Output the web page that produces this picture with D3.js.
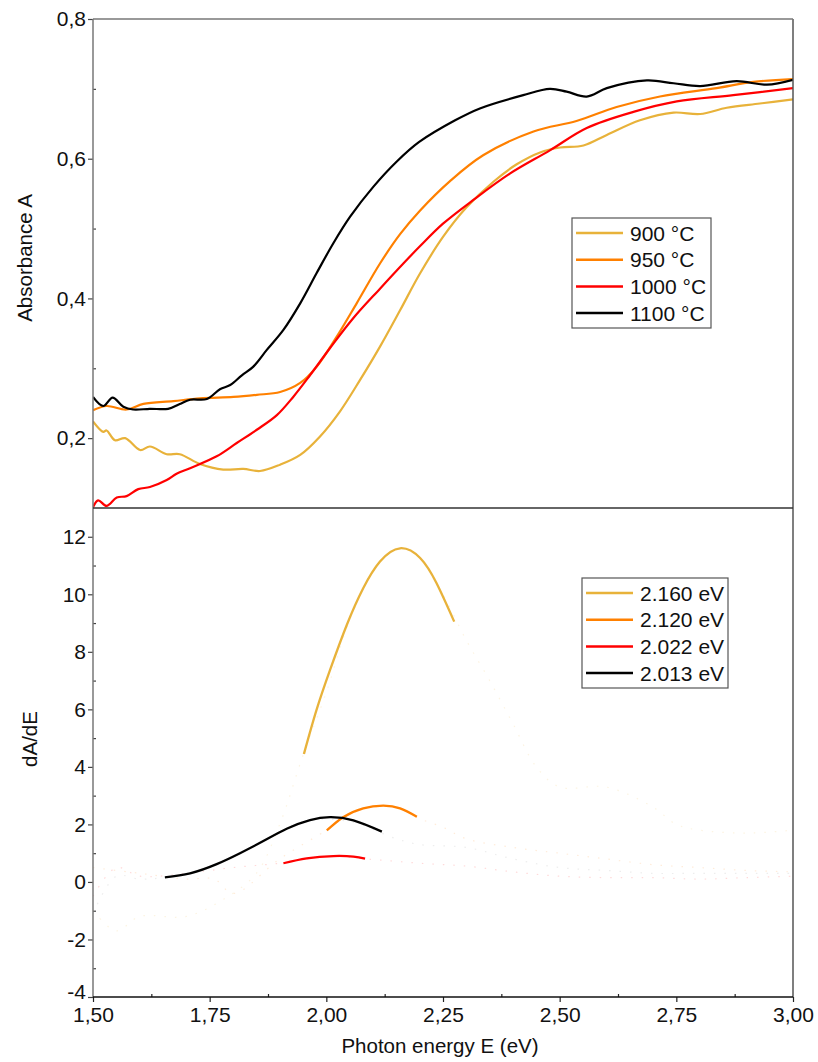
<!DOCTYPE html>
<html>
<head>
<meta charset="utf-8">
<script src="https://cdn.jsdelivr.net/npm/d3@7"></script>
<style>
  body { margin: 0; background: #fff; }
  text { font-family: "Liberation Sans", Arial, sans-serif; fill: #111; }
</style>
</head>
<body>
<svg id="chart" width="818" height="1062"></svg>
<script>
// ---- absorbance spectra (top panel) ----
var e900 = [1.500, 1.522, 1.529, 1.547, 1.569, 1.601, 1.622, 1.658, 1.686, 1.729, 1.779, 1.822, 1.858, 1.901, 1.944, 1.986, 2.029, 2.072, 2.115, 2.158, 2.201, 2.250, 2.300, 2.358, 2.408, 2.458, 2.501, 2.551, 2.601, 2.672, 2.744, 2.801, 2.858, 2.929, 3.000];
var a900 = [0.224, 0.209, 0.211, 0.197, 0.200, 0.183, 0.188, 0.177, 0.177, 0.163, 0.155, 0.156, 0.153, 0.162, 0.176, 0.202, 0.238, 0.283, 0.331, 0.383, 0.436, 0.488, 0.530, 0.567, 0.592, 0.609, 0.616, 0.619, 0.634, 0.655, 0.666, 0.664, 0.673, 0.679, 0.685];
var e950 = [1.500, 1.529, 1.572, 1.608, 1.672, 1.729, 1.801, 1.851, 1.901, 1.944, 1.979, 2.022, 2.065, 2.115, 2.158, 2.201, 2.265, 2.336, 2.444, 2.536, 2.622, 2.715, 2.836, 2.915, 3.000];
var a950 = [0.240, 0.246, 0.241, 0.249, 0.253, 0.257, 0.259, 0.262, 0.266, 0.279, 0.302, 0.345, 0.393, 0.450, 0.492, 0.526, 0.568, 0.605, 0.639, 0.654, 0.674, 0.689, 0.701, 0.710, 0.714];
var e1000 = [1.500, 1.511, 1.529, 1.551, 1.572, 1.597, 1.622, 1.658, 1.679, 1.708, 1.765, 1.808, 1.851, 1.894, 1.929, 1.965, 2.008, 2.058, 2.115, 2.165, 2.201, 2.250, 2.315, 2.394, 2.479, 2.558, 2.658, 2.751, 2.872, 3.000];
var a1000 = [0.101, 0.111, 0.103, 0.115, 0.117, 0.127, 0.130, 0.140, 0.149, 0.157, 0.174, 0.193, 0.212, 0.233, 0.259, 0.290, 0.329, 0.372, 0.414, 0.450, 0.475, 0.507, 0.541, 0.579, 0.612, 0.644, 0.667, 0.682, 0.691, 0.701];
var e1100 = [1.500, 1.522, 1.542, 1.565, 1.586, 1.622, 1.661, 1.686, 1.708, 1.744, 1.772, 1.794, 1.819, 1.843, 1.872, 1.908, 1.944, 1.979, 2.015, 2.051, 2.101, 2.151, 2.199, 2.276, 2.329, 2.422, 2.479, 2.515, 2.558, 2.601, 2.687, 2.744, 2.801, 2.879, 2.944, 3.000];
var a1100 = [0.259, 0.246, 0.258, 0.245, 0.241, 0.242, 0.242, 0.249, 0.255, 0.256, 0.270, 0.276, 0.290, 0.302, 0.326, 0.355, 0.393, 0.436, 0.479, 0.517, 0.560, 0.596, 0.624, 0.655, 0.672, 0.691, 0.700, 0.696, 0.689, 0.701, 0.712, 0.708, 0.704, 0.711, 0.706, 0.713];

// ---- derivative (bottom panel), faint raw data ----
var de900 = [1.50, 1.55, 1.60, 1.70, 1.78, 1.85, 1.90, 1.95, 2.00, 2.05, 2.10, 2.15, 2.20, 2.25, 2.30, 2.35, 2.40, 2.45, 2.50, 2.60, 2.70, 2.75, 2.80, 2.90, 3.00];
var d900 = [-1.0, -1.7, -1.2, -1.2, -0.6, 0.3, 2.0, 4.4, 6.6, 9.1, 10.8, 11.6, 11.3, 10.0, 8.4, 7.0, 5.5, 4.0, 3.3, 3.3, 2.6, 2.0, 1.8, 1.7, 1.8];
var de950 = [1.50, 1.60, 1.70, 1.76, 1.80, 1.90, 2.00, 2.05, 2.10, 2.15, 2.20, 2.25, 2.30, 2.40, 2.50, 2.60, 2.70, 2.80, 2.90, 3.00];
var d950 = [0.5, 0.3, 0.1, 0.1, -0.4, 0.8, 1.8, 2.35, 2.6, 2.6, 2.2, 1.9, 1.5, 1.2, 1.0, 0.8, 0.6, 0.5, 0.4, 0.35];
var de1000 = [1.50, 1.55, 1.60, 1.70, 1.80, 1.90, 2.00, 2.10, 2.20, 2.30, 2.40, 2.50, 2.60, 2.70, 2.80, 2.90, 3.00];
var d1000 = [-0.5, 0.5, 0.2, 0.3, 0.5, 0.65, 0.88, 0.78, 0.65, 0.55, 0.35, 0.2, 0.15, 0.15, 0.1, 0.15, 0.2];
var de1100 = [1.50, 1.55, 1.60, 1.65, 1.75, 1.85, 1.95, 2.05, 2.15, 2.20, 2.30, 2.40, 2.50, 2.60, 2.70, 2.80, 2.90, 3.00];
var d1100 = [-1.1, 0.2, 0.1, 0.15, 0.5, 1.3, 2.1, 2.1, 1.5, 1.3, 1.2, 0.8, 0.5, 0.4, 0.3, 0.3, 0.3, 0.3];

// ---- gaussian fits of the derivative peaks ----
var fe2160 = [1.952, 1.979, 2.008, 2.044, 2.079, 2.115, 2.158, 2.201, 2.236, 2.274];
var fv2160 = [4.45, 5.98, 7.37, 8.94, 10.21, 11.14, 11.6, 11.26, 10.39, 9.05];
var fe2120 = [2.001, 2.036, 2.079, 2.122, 2.158, 2.194];
var fv2120 = [1.79, 2.25, 2.56, 2.65, 2.56, 2.27];
var fe2022 = [1.908, 1.958, 2.015, 2.058, 2.083];
var fv2022 = [0.65, 0.82, 0.90, 0.88, 0.81];
var fe2013 = [1.654, 1.708, 1.765, 1.815, 1.865, 1.915, 1.965, 2.008, 2.058, 2.119];
var fv2013 = [0.16, 0.30, 0.62, 1.00, 1.42, 1.85, 2.15, 2.25, 2.14, 1.75];

var tempLabels = ["900 °C", "950 °C", "1000 °C", "1100 °C"];
var peakLabels = ["2.160 eV", "2.120 eV", "2.022 eV", "2.013 eV"];
var colors = ["#E8B23A", "#FF8000", "#FF0000", "#000000"];

var xTicks = [1.5, 1.75, 2.0, 2.25, 2.5, 2.75, 3.0];
var xTickLabels = ["1,50", "1,75", "2,00", "2,25", "2,50", "2,75", "3,00"];
var xMinor = [1.625, 1.875, 2.125, 2.375, 2.625, 2.875];
var yTopTicks = [0.2, 0.4, 0.6, 0.8];
var yTopLabels = ["0,2", "0,4", "0,6", "0,8"];
var yTopMinor = [0.3, 0.5, 0.7];
var yBotTicks = [-4, -2, 0, 2, 4, 6, 8, 10, 12];
var yBotLabels = ["-4", "-2", "0", "2", "4", "6", "8", "10", "12"];
var yBotMinor = [-3, -1, 1, 3, 5, 7, 9, 11];

var svg = d3.select("#chart");
var left = 93, right = 793, topY = 19, midY = 508, botY = 997;

var x = d3.scaleLinear().domain([1.5, 3.0]).range([left, right]);
var yTop = d3.scaleLinear().domain([0.1, 0.8]).range([midY, topY]);
var yBot = d3.scaleLinear().domain([-4, 13]).range([botY, midY]);

var defs = svg.append("defs");
defs.append("clipPath").attr("id", "clipTop").append("rect")
  .attr("x", left).attr("y", topY).attr("width", right - left).attr("height", midY - topY);
defs.append("clipPath").attr("id", "clipBot").append("rect")
  .attr("x", left).attr("y", midY).attr("width", right - left).attr("height", botY - midY);

function pairs(es, vs) {
  return es.map(function (e, i) { return [e, vs[i]]; });
}

// top panel curves
var topSeries = [pairs(e900, a900), pairs(e950, a950), pairs(e1000, a1000), pairs(e1100, a1100)];
var lineTop = d3.line()
  .x(function (d) { return x(d[0]); })
  .y(function (d) { return yTop(d[1]); })
  .curve(d3.curveCatmullRom.alpha(0.5));
var gTop = svg.append("g").attr("clip-path", "url(#clipTop)");
topSeries.forEach(function (s, i) {
  gTop.append("path").datum(s)
    .attr("d", lineTop)
    .attr("fill", "none")
    .attr("stroke", colors[i])
    .attr("stroke-width", 2.2);
});

// bottom panel
var lineRaw = d3.line()
  .x(function (d) { return x(d[0]); })
  .y(function (d) { return yBot(d[1]); })
  .curve(d3.curveCatmullRom.alpha(0.5));
var lineFit = d3.line()
  .x(function (d) { return x(d[0]); })
  .y(function (d) { return yBot(d[1]); })
  .curve(d3.curveNatural);
var gBot = svg.append("g").attr("clip-path", "url(#clipBot)");
var rawSeries = [pairs(de900, d900), pairs(de950, d950), pairs(de1000, d1000), pairs(de1100, d1100)];
rawSeries.forEach(function (s, i) {
  gBot.append("path").datum(s)
    .attr("d", lineRaw)
    .attr("fill", "none")
    .attr("stroke", i === 3 ? "#888" : colors[i])
    .attr("stroke-opacity", 0.15)
    .attr("stroke-width", 1.2)
    .attr("stroke-dasharray", "1.5,9");
});
var fitSeries = [pairs(fe2160, fv2160), pairs(fe2120, fv2120), pairs(fe2022, fv2022), pairs(fe2013, fv2013)];
fitSeries.forEach(function (s, i) {
  gBot.append("path").datum(s)
    .attr("d", lineFit)
    .attr("fill", "none")
    .attr("stroke", colors[i])
    .attr("stroke-width", 2.3);
});

// axes
function styleAxis(g, col) {
  g.select(".domain").remove();
  g.selectAll(".tick line").attr("stroke", col).attr("stroke-width", 1.2);
  g.selectAll(".tick text").style("font-size", "21px").attr("fill", "#111");
}

var axTopL = svg.append("g").attr("transform", "translate(" + left + ",0)")
  .call(d3.axisLeft(yTop).tickValues(yTopTicks)
    .tickFormat(function (d, i) { return yTopLabels[i]; }).tickSize(5).tickPadding(2));
styleAxis(axTopL, "#444");
var axTopM = svg.append("g").attr("transform", "translate(" + left + ",0)")
  .call(d3.axisLeft(yTop).tickValues(yTopMinor).tickFormat("").tickSize(-3));
styleAxis(axTopM, "#444");

var axBotL = svg.append("g").attr("transform", "translate(" + left + ",0)")
  .call(d3.axisLeft(yBot).tickValues(yBotTicks)
    .tickFormat(function (d, i) { return yBotLabels[i]; }).tickSize(5).tickPadding(2));
styleAxis(axBotL, "#444");
// lift the lowest label a little so it clears the first x label
axBotL.selectAll(".tick text").filter(function (d) { return d === -4; }).attr("dy", "0.05em");
var axBotM = svg.append("g").attr("transform", "translate(" + left + ",0)")
  .call(d3.axisLeft(yBot).tickValues(yBotMinor).tickFormat("").tickSize(-3));
styleAxis(axBotM, "#444");

var axX = svg.append("g").attr("transform", "translate(0," + botY + ")")
  .call(d3.axisBottom(x).tickValues(xTicks)
    .tickFormat(function (d, i) { return xTickLabels[i]; }).tickSize(5).tickPadding(5));
styleAxis(axX, "#222");
var axXM = svg.append("g").attr("transform", "translate(0," + botY + ")")
  .call(d3.axisBottom(x).tickValues(xMinor).tickFormat("").tickSize(-3));
styleAxis(axXM, "#222");

// frame lines
svg.append("line").attr("x1", left).attr("x2", left).attr("y1", topY).attr("y2", botY)
  .attr("stroke", "#777").attr("stroke-width", 1.5);
svg.append("line").attr("x1", right).attr("x2", right).attr("y1", topY).attr("y2", botY)
  .attr("stroke", "#555").attr("stroke-width", 1.5);
svg.append("line").attr("x1", left).attr("x2", right).attr("y1", topY).attr("y2", topY)
  .attr("stroke", "#777").attr("stroke-width", 1.5);
svg.append("line").attr("x1", left).attr("x2", right).attr("y1", midY).attr("y2", midY)
  .attr("stroke", "#333").attr("stroke-width", 1.5);
svg.append("line").attr("x1", left).attr("x2", right).attr("y1", botY).attr("y2", botY)
  .attr("stroke", "#111").attr("stroke-width", 1.5);

// axis titles
svg.append("text").attr("transform", "translate(32,258) rotate(-90)")
  .attr("text-anchor", "middle").style("font-size", "20.5px").text("Absorbance A");
svg.append("text").attr("transform", "translate(37,739) rotate(-90)")
  .attr("text-anchor", "middle").style("font-size", "20.5px").text("dA/dE");
svg.append("text").attr("x", 440).attr("y", 1053)
  .attr("text-anchor", "middle").style("font-size", "20.5px").text("Photon energy E (eV)");

// legends
function legend(x0, y0, w, h, labels) {
  var g = svg.append("g");
  g.append("rect").attr("x", x0).attr("y", y0).attr("width", w).attr("height", h)
    .attr("fill", "#fff").attr("stroke", "#555").attr("stroke-width", 1.2);
  labels.forEach(function (lab, i) {
    var cy = y0 + 15 + i * 26.7;
    g.append("line").attr("x1", x0 + 4).attr("x2", x0 + 51).attr("y1", cy).attr("y2", cy)
      .attr("stroke", colors[i]).attr("stroke-width", 2.5);
    g.append("text").attr("x", x0 + 58).attr("y", cy + 7.5).style("font-size", "21px").text(lab);
  });
}
legend(572, 218, 139, 110, tempLabels);
legend(582, 578, 146, 110, peakLabels);
</script>
</body>
</html>
